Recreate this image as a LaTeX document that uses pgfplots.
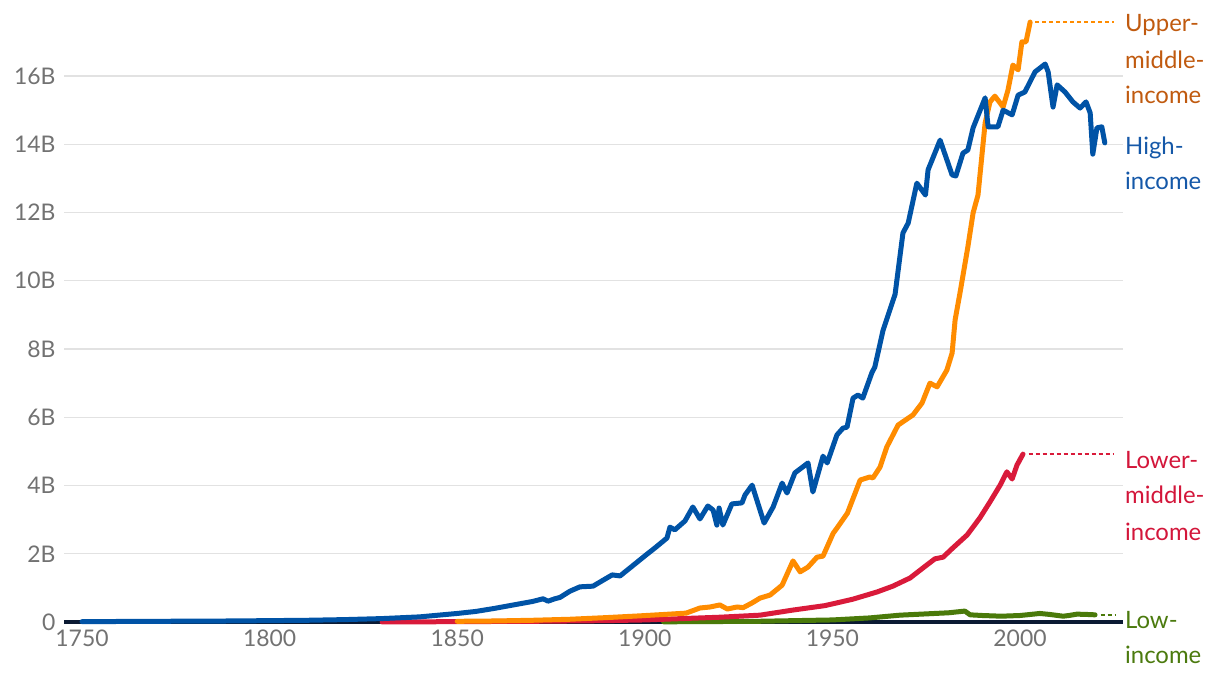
\documentclass[border=0pt]{standalone}
\usepackage{pgfplots}
\pgfplotsset{compat=1.18}
\usepackage{fontspec}
\setmainfont{Lato}

\definecolor{hiline}{HTML}{0053A6}
\definecolor{umline}{HTML}{FF8C00}
\definecolor{lmline}{HTML}{D91A3A}
\definecolor{loline}{HTML}{4A7A0A}
\definecolor{hitxt}{HTML}{1558A8}
\definecolor{umtxt}{HTML}{C05A0F}
\definecolor{lmtxt}{HTML}{D3163A}
\definecolor{lotxt}{HTML}{4B7A0E}
\definecolor{baseln}{HTML}{0B1A33}
\definecolor{gridc}{HTML}{E2E2E2}
\definecolor{tickc}{HTML}{727272}

\begin{document}
\begin{tikzpicture}[x=1bp,y=1bp]
\path[use as bounding box] (0,0) rectangle (1220,676);
\begin{axis}[
  at={(64bp,54bp)}, anchor=south west,
  scale only axis, width=1059bp, height=614.25bp,
  xmin=1745.2, xmax=2027.45, ymin=0, ymax=18,
  axis line style={draw=none},
  major tick style={draw=none}, minor tick style={draw=none},
  xtick={1750,1800,1850,1900,1950,2000},
  ytick={0,2,4,6,8,10,12,14,16},
  yticklabels={0,2B,4B,6B,8B,10B,12B,14B,16B},
  ymajorgrids,
  grid style={color=gridc, line width=1.3bp},
  clip=false,
  /pgf/number format/1000 sep={},
  /pgf/number format/assume math mode=true,
  tick label style={font=\fontsize{23}{27}\selectfont, text=tickc},
  xticklabel style={anchor=north, yshift=-4bp},
  yticklabel style={anchor=east, xshift=-5bp},
  every axis plot/.append style={line width=5bp, line join=round, line cap=round},
]
\draw[color=baseln, line width=3.5bp] (axis cs:1745.2,0) -- (axis cs:2027.45,0);

% Low-income
\addplot[color=loline] coordinates {
(1905,0.005) (1930,0.02) (1950,0.06) (1960,0.12) (1968,0.20) (1981,0.27)
(1985.3,0.32) (1986.7,0.21) (1990,0.19) (1995,0.17) (2000,0.19) (2005.3,0.25)
(2008,0.22) (2011.5,0.17) (2013,0.19) (2015.2,0.23) (2018,0.22) (2020,0.21)
};

% Lower-middle-income
\addplot[color=lmline] coordinates {
(1830,0.0) (1850,0.01) (1870,0.02) (1890,0.04) (1900,0.06) (1910,0.10) (1920,0.14)
(1930.7,0.20) (1939.5,0.35) (1948,0.48) (1951.2,0.56) (1955.5,0.67) (1961.9,0.88)
(1966.1,1.05) (1970.7,1.29) (1974.1,1.58) (1977.3,1.85) (1979.5,1.90) (1982.1,2.17)
(1985.9,2.55) (1989.3,3.05) (1992,3.52) (1994.7,4.01) (1996.5,4.40) (1997.9,4.19)
(1999.2,4.60) (2000.8,4.92)
};

% Upper-middle-income
\addplot[color=umline] coordinates {
(1850,0.02) (1860,0.03) (1870,0.05) (1880,0.08) (1890,0.13) (1898.7,0.18) (1905,0.22)
(1911,0.26) (1914.7,0.41) (1917.4,0.44) (1920,0.50) (1922,0.38) (1924.6,0.44)
(1926.2,0.42) (1928.6,0.56) (1930.7,0.70) (1933.4,0.79) (1936.6,1.08) (1939.5,1.79)
(1941.4,1.47) (1943.5,1.61) (1945.9,1.90) (1947.5,1.93) (1950.2,2.60) (1951.2,2.75)
(1954,3.19) (1957.4,4.16) (1960,4.25) (1960.8,4.22) (1962.7,4.54) (1964.5,5.13)
(1967.5,5.77) (1971.5,6.07) (1973.9,6.42) (1976,7.00) (1977.9,6.89) (1980.5,7.38)
(1981.9,7.88) (1982.7,8.85) (1984,9.64) (1986.1,10.99) (1987.5,11.99) (1988.8,12.51)
(1990.7,14.62) (1992,15.24) (1993.3,15.41) (1995.5,15.09) (1996.8,15.59) (1998.1,16.32)
(1999.5,16.18) (2000.5,17.00) (2001.6,17.00) (2002.7,17.58)
};

% High-income
\addplot[color=hiline] coordinates {
(1750,0.01) (1760,0.015) (1770,0.02) (1780,0.025) (1790,0.03) (1800,0.04) (1810,0.05)
(1820,0.07) (1830,0.10) (1840,0.15) (1850,0.25) (1855,0.31) (1860,0.40) (1865,0.50)
(1870,0.60) (1872.9,0.68) (1874.2,0.61) (1876,0.68) (1877.4,0.72) (1880,0.90)
(1882.7,1.03) (1886.2,1.05) (1888.5,1.20) (1891.3,1.38) (1893.4,1.35) (1896,1.58)
(1898.7,1.82) (1900.5,1.98) (1902.7,2.17) (1905.9,2.46) (1906.7,2.78) (1908,2.70)
(1910.7,2.96) (1912.8,3.37) (1914.7,3.02) (1916.8,3.40) (1918.2,3.28) (1919.2,2.84)
(1919.8,3.34) (1920.8,2.84) (1923.2,3.46) (1925.9,3.49) (1926.7,3.72) (1928.6,4.01)
(1931.8,2.90) (1934.2,3.37) (1936.6,4.07) (1937.9,3.78) (1940,4.37) (1943.5,4.66)
(1944.8,3.81) (1947.5,4.86) (1948.6,4.66) (1951.2,5.48) (1952.8,5.68) (1953.9,5.71)
(1955.5,6.56) (1956.8,6.65) (1958.1,6.56) (1960.5,7.30) (1961.3,7.47) (1963.5,8.55)
(1966.7,9.60) (1968.8,11.40) (1970.2,11.69) (1972.5,12.86) (1974.8,12.51)
(1975.5,13.25) (1978.7,14.12) (1981.9,13.10) (1982.9,13.07) (1984.8,13.74)
(1986.1,13.83) (1987.5,14.48) (1990.7,15.36) (1991.5,14.51) (1994.1,14.51)
(1995.5,15.00) (1997.9,14.86) (1999.5,15.44) (2001.3,15.53) (2004,16.12)
(2006.7,16.35) (2007.5,16.12) (2008.8,15.09) (2009.9,15.74) (2012,15.53)
(2014.1,15.24) (2016,15.06) (2017.6,15.24) (2018.7,14.92) (2019.4,13.71)
(2020.5,14.48) (2021.8,14.51) (2022.6,14.04)
};

% connectors
\draw[color=umline, line width=1.5bp, dash pattern=on 4bp off 3bp] (axis cs:2004,17.58) -- (axis cs:2025,17.58);
\draw[color=lmline, line width=1.5bp, dash pattern=on 4bp off 3bp] (axis cs:2002.3,4.92) -- (axis cs:2025,4.92);
\draw[color=loline, line width=1.5bp, dash pattern=on 4bp off 3bp] (axis cs:2021.5,0.21) -- (axis cs:2025.5,0.21);

% labels
\begin{scope}[every node/.style={anchor=base west, inner sep=0pt, font=\fontsize{24}{28}\selectfont}]
\node[text=umtxt] at (axis cs:2027.98,17.29) {Upper-};
\node[text=umtxt] at (axis cs:2027.98,16.23) {middle-};
\node[text=umtxt] at (axis cs:2027.98,15.18) {income};
\node[text=hitxt] at (axis cs:2027.98,13.71) {High-};
\node[text=hitxt] at (axis cs:2027.98,12.66) {income};
\node[text=lmtxt] at (axis cs:2027.98,4.51) {Lower-};
\node[text=lmtxt] at (axis cs:2027.98,3.46) {middle-};
\node[text=lmtxt] at (axis cs:2027.98,2.40) {income};
\node[text=lotxt] at (axis cs:2027.98,-0.18) {Low-};
\node[text=lotxt] at (axis cs:2027.98,-1.23) {income};
\end{scope}
\end{axis}
\end{tikzpicture}
\end{document}
